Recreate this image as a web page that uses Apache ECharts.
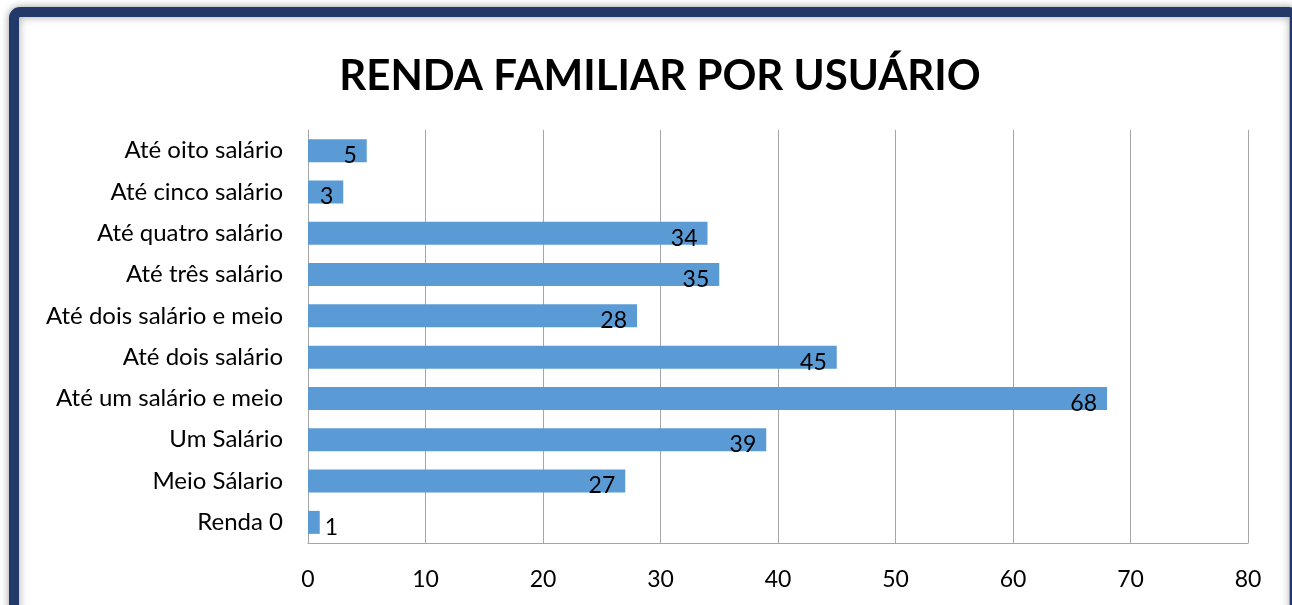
<!DOCTYPE html>
<html>
<head>
<meta charset="utf-8">
<script src="https://cdn.jsdelivr.net/npm/echarts@6/dist/echarts.min.js"></script>
<style>
  html, body { margin: 0; padding: 0; background: #fff; }
  #chart { width: 1292px; height: 605px; }
</style>
</head>
<body>
<div id="chart"></div>
<script>
var categories = ['Renda 0', 'Meio Sálario', 'Um Salário', 'Até um salário e meio', 'Até dois salário',
    'Até dois salário e meio', 'Até três salário', 'Até quatro salário', 'Até cinco salário', 'Até oito salário'];
var values = [1, 27, 39, 68, 45, 28, 35, 34, 3, 5];
var xTicks = { min: 0, max: 80, interval: 10 };

var font = 'Lato, "Open Sans", sans-serif';

var option = {
    animation: false,
    backgroundColor: '#ffffff',
    // moldura azul escura em volta do gráfico
    graphic: [{
        type: 'rect',
        z: -10,
        shape: { x: 14, y: 12, width: 1281, height: 700, r: 6 },
        style: {
            fill: '#ffffff',
            stroke: '#23396a',
            lineWidth: 10,
            shadowBlur: 8,
            shadowColor: 'rgba(0,0,0,0.35)'
        }
    }, {
        type: 'line',
        z: -9,
        shape: { x1: 1289.5, y1: 17, x2: 1289.5, y2: 605 },
        style: { stroke: '#a0a0a0', lineWidth: 1 }
    }],
    title: {
        text: 'RENDA FAMILIAR POR USUÁRIO',
        left: 655,
        textAlign: 'center',
        top: 50,
        textStyle: { fontFamily: font, fontWeight: 'bold', fontSize: 42, color: '#000' }
    },
    grid: { left: 308, right: 44, top: 130, bottom: 62, containLabel: false },
    xAxis: {
        type: 'value',
        min: xTicks.min,
        max: xTicks.max,
        interval: xTicks.interval,
        axisLine: { show: true, lineStyle: { color: '#a6a6a6', width: 1 } },
        axisTick: { show: false },
        axisLabel: { fontFamily: font, fontSize: 23, color: '#000', margin: 25 },
        splitLine: { show: true, lineStyle: { color: '#a6a6a6', width: 1 } }
    },
    yAxis: {
        type: 'category',
        data: categories,
        axisLine: { show: true, lineStyle: { color: '#a6a6a6', width: 1 } },
        axisTick: { show: false },
        axisLabel: { fontFamily: font, fontSize: 24, color: '#000', margin: 25 }
    },
    series: [{
        type: 'bar',
        barWidth: 23,
        itemStyle: { color: '#5b9bd5' },
        label: {
            show: true,
            position: 'insideRight',
            distance: 10,
            offset: [0, 5],
            fontFamily: font,
            fontSize: 23,
            color: '#000'
        },
        data: values.map(function (v) {
            return v < 2 ? { value: v, label: { position: 'right', distance: 5 } } : v;
        })
    }]
};

var myChart = echarts.init(document.getElementById('chart'));
myChart.setOption(option);
</script>
</body>
</html>
